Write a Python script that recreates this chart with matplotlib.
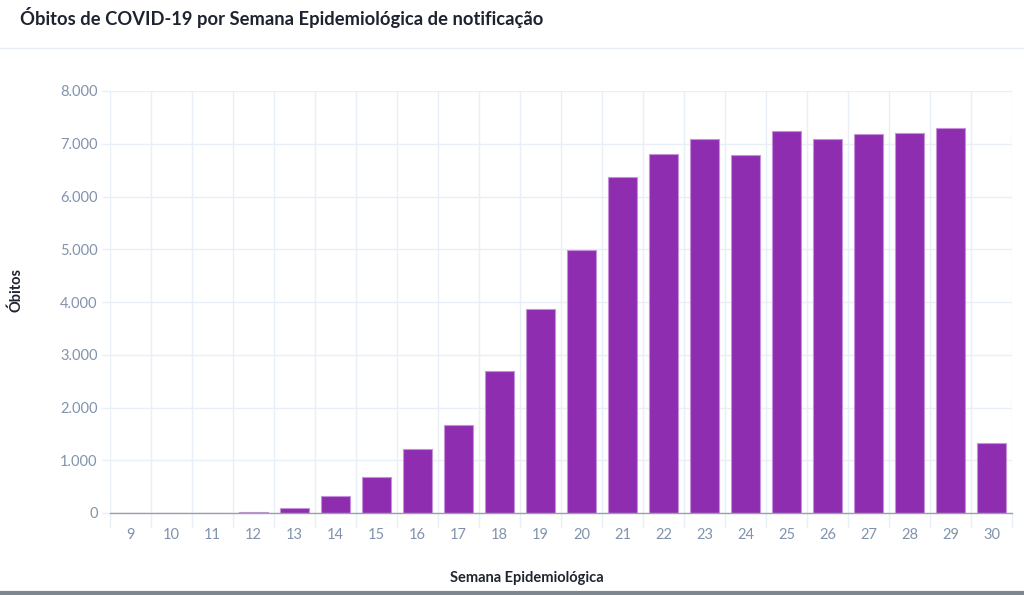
import matplotlib
matplotlib.use("Agg")
import matplotlib.pyplot as plt
from matplotlib.lines import Line2D
import numpy as np

weeks = [str(w) for w in range(9, 31)]
deaths = [2, 3, 4, 20, 95, 317, 690, 1220, 1670, 2690, 3870, 4995,
          6370, 6815, 7085, 6780, 7240, 7085, 7185, 7200, 7295, 1335]
yticks = [0, 1000, 2000, 3000, 4000, 5000, 6000, 7000, 8000]
ytick_labels = ["0", "1.000", "2.000", "3.000", "4.000", "5.000", "6.000", "7.000", "8.000"]

title = "Óbitos de COVID-19 por Semana Epidemiológica de notificação"
xlabel = "Semana Epidemiológica"
ylabel = "Óbitos"

plt.rcParams['font.family'] = ['Lato', 'DejaVu Sans']

fig = plt.figure(figsize=(10.24, 5.95), dpi=100)
ax = fig.add_axes([110/1024, 1-513/595, 902/1024, 422/595])

x = np.arange(len(weeks))
ax.bar(x, deaths, width=0.72, color="#8E2DB0", edgecolor="#C592DA", linewidth=0.8, zorder=3)

ax.set_xlim(-0.5, len(weeks) - 0.5)
ax.set_ylim(0, 8000)
ax.set_xticks(x)
ax.set_xticklabels(weeks)
ax.set_xticks(np.arange(-0.5, len(weeks), 1.0), minor=True)
ax.set_yticks(yticks)
ax.set_yticklabels(ytick_labels)

grid_c = "#E9EFF7"
ax.grid(True, which="minor", axis="x", color=grid_c, linewidth=1, zorder=0)
ax.grid(True, which="major", axis="y", color=grid_c, linewidth=1, zorder=0)
ax.tick_params(axis="x", which="major", length=0, pad=11, labelsize=10.5, labelcolor="#8193AC")
ax.tick_params(axis="x", which="minor", length=11, color=grid_c, width=1)
ax.tick_params(axis="y", which="major", length=6, color=grid_c, width=1, pad=3, labelsize=10.5, labelcolor="#8193AC")

for s in ["top", "right", "left"]:
    ax.spines[s].set_visible(False)
ax.spines["bottom"].set_color("#9AA0A8")
ax.spines["bottom"].set_linewidth(1)
ax.spines["bottom"].set_zorder(4)

ax.set_xlabel(xlabel, fontsize=10.5, fontweight="bold", color="#1F2430")
ax.set_ylabel(ylabel, fontsize=10.5, fontweight="bold", color="#1F2430")
ax.xaxis.set_label_coords((527 - 110) / 902, (513 - 578) / 422)
ax.yaxis.set_label_coords((16 - 110) / 902, (513 - 290) / 422)
ax.xaxis.label.set_va("center")
ax.yaxis.label.set_va("center")

fig.text(20/1024, 1-18/595, title, fontsize=13.2, fontweight="bold", color="#1E2330", ha="left", va="center")
fig.add_artist(Line2D([0, 1], [1-48/595, 1-48/595], color="#E6ECF4", linewidth=1))
fig.add_artist(Line2D([0, 1], [1-593/595, 1-593/595], color="#7E8690", linewidth=3))

fig.savefig("out.png", dpi=100)
